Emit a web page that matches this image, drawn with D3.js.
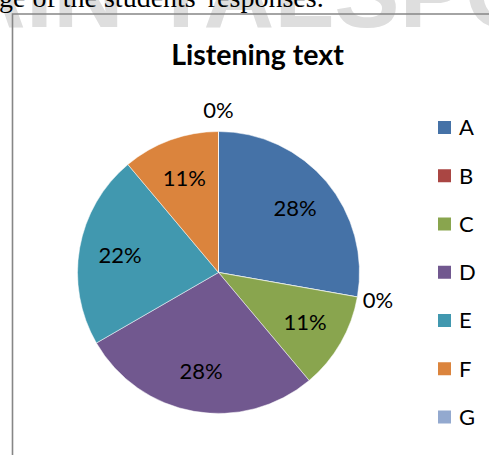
<!DOCTYPE html>
<html>
<head>
  <meta charset="utf-8">
  <title>Listening text</title>
  <style>
   html, body { margin: 0; padding: 0; background: #fff; }
   svg { display: block; }
   text { font-family: Lato, "Open Sans", sans-serif; fill: #000; }
  </style>
</head>
<body>
  <div id="chart"></div>
  <script src="https://d3js.org/d3.v7.min.js"></script>
  <script>
// data (counts out of 18 answers)
var categories = ["A", "B", "C", "D", "E", "F", "G"];
var counts = [5, 0, 2, 5, 4, 2, 0];
var colors = ["#4572A7", "#AA4643", "#89A54E", "#71588F", "#4198AF", "#DB843D", "#93A9CF"];
var title = "Listening text";
var pageLine = "ge of the students' responses.";
var watermark = "AIN TALSPO";

var width = 489, height = 455;
var cx = 218.5, cy = 272.5, radius = 141;

var svg = d3.select("#chart").append("svg")
  .attr("width", width)
  .attr("height", height);

// faint watermark from the scanned page, behind everything
svg.append("text")
  .attr("x", -45)
  .attr("y", 27)
  .style("font-family", "'Liberation Sans', sans-serif")
  .style("font-weight", "bold")
  .style("font-size", "98px")
  .style("fill", "#dedede")
  .text(watermark);

// line of body text cut off at the top
svg.append("text")
  .attr("x", -1)
  .attr("y", 7)
  .style("font-family", "'Liberation Serif', serif")
  .style("font-size", "28px")
  .text(pageLine);

// chart frame (only top and left edges visible)
svg.append("path")
  .attr("d", "M12.5,455 V14 H489")
  .attr("fill", "none")
  .attr("stroke", "#868686")
  .attr("stroke-width", 1.6);

svg.append("text")
  .attr("x", 257.5)
  .attr("y", 65)
  .attr("text-anchor", "middle")
  .style("font-weight", "bold")
  .style("font-size", "28.5px")
  .text(title);

var total = d3.sum(counts);
var pie = d3.pie().sort(null).value(function(d) { return d; });
var arcs = pie(counts);

var arc = d3.arc().innerRadius(0).outerRadius(radius);
var labelArc = d3.arc().innerRadius(100).outerRadius(100);
var outArc = d3.arc().innerRadius(162).outerRadius(162);

var g = svg.append("g").attr("transform", "translate(" + cx + "," + cy + ")");

g.selectAll("path")
  .data(arcs)
  .enter()
  .append("path")
  .attr("d", arc)
  .attr("fill", function(d, i) { return colors[i]; })
  .attr("stroke", "#fff")
  .attr("stroke-width", 0.5);

g.selectAll("text")
  .data(arcs)
  .enter()
  .append("text")
  .attr("transform", function(d) {
    var p = d.value === 0 ? outArc.centroid(d) : labelArc.centroid(d);
    return "translate(" + p[0] + "," + p[1] + ")";
  })
  .attr("text-anchor", "middle")
  .attr("dy", "0.35em")
  .style("font-size", "22px")
  .text(function(d) { return Math.round(d.value / total * 100) + "%"; });

// legend
var ly = d3.scalePoint().domain(categories).range([127.5, 417]);
var legend = svg.append("g").selectAll("g")
  .data(categories)
  .enter()
  .append("g")
  .attr("transform", function(d) { return "translate(438," + ly(d) + ")"; });

legend.append("rect")
  .attr("x", 0)
  .attr("y", -6.5)
  .attr("width", 13)
  .attr("height", 13)
  .attr("fill", function(d, i) { return colors[i]; });

legend.append("text")
  .attr("x", 21)
  .attr("dy", "0.36em")
  .style("font-size", "22px")
  .text(function(d) { return d; });
  </script>
</body>
</html>
